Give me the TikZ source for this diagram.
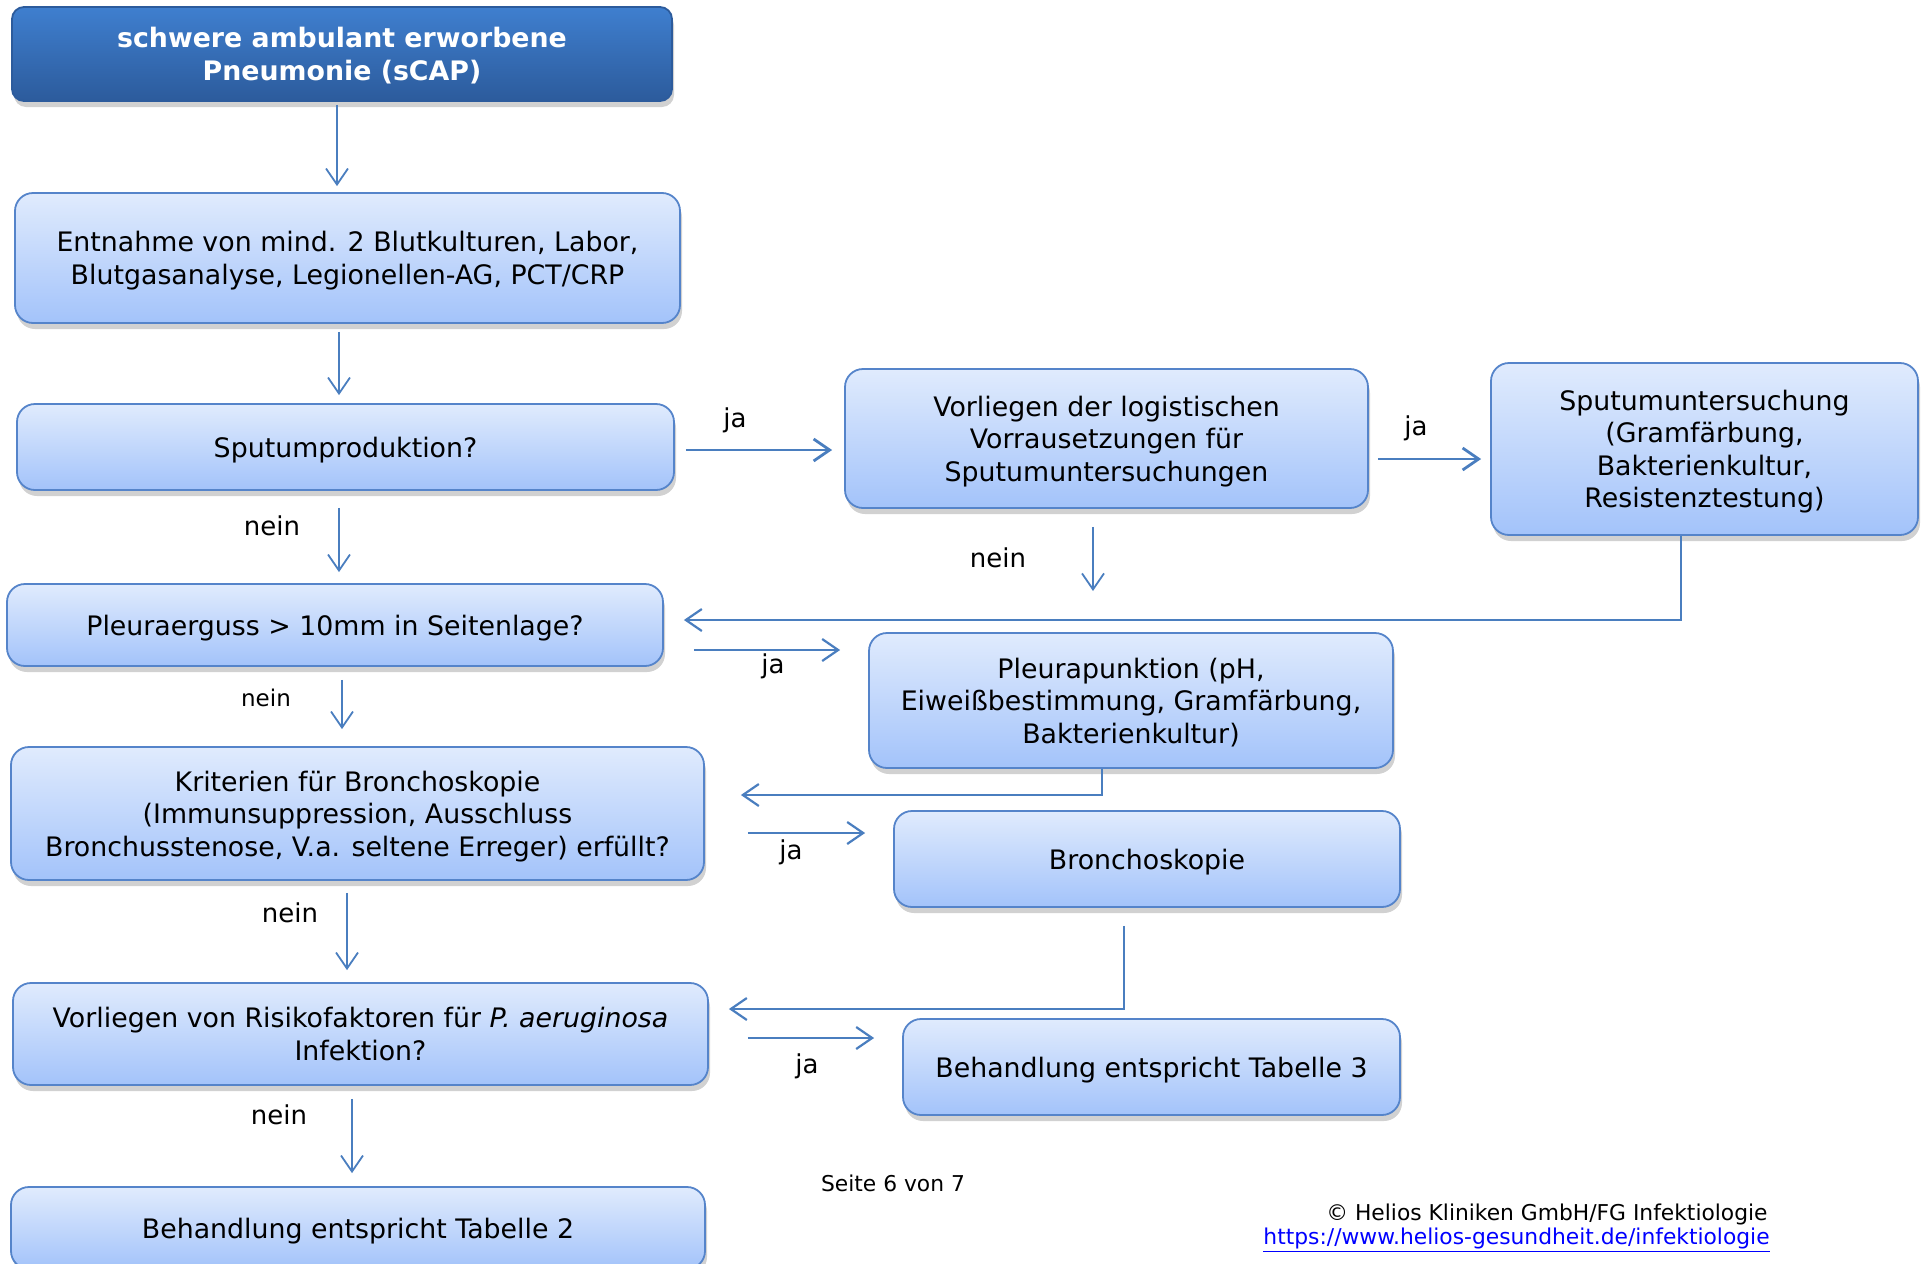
\documentclass[tikz,border=0pt]{standalone}
\usepackage{fontspec}
\setmainfont{DejaVu Sans}
\usetikzlibrary{arrows.meta,shadows,calc}
\definecolor{bord}{HTML}{5584CA}
\definecolor{ftop}{HTML}{E0EBFD}
\definecolor{fbot}{HTML}{A3C3FA}
\definecolor{dtop}{HTML}{3F7FCF}
\definecolor{dbot}{HTML}{2C5B9C}
\definecolor{arr}{HTML}{4A7EBF}
\newcommand\boxfont{\fontsize{13.4pt}{16.2pt}\selectfont}
\newcommand\labfont{\fontsize{13pt}{16pt}\selectfont}
\newcommand\footfont{\fontsize{10.9pt}{13pt}\selectfont}
\tikzset{
  box/.style={rectangle, rounded corners=9pt, draw=bord, line width=0.9pt,
    top color=ftop, bottom color=fbot, align=center, font=\boxfont, inner sep=0pt,
    text depth=0pt,
    drop shadow={shadow xshift=1pt, shadow yshift=-3pt, opacity=0.3, fill=black!60}},
  darkbox/.style={box, rounded corners=6pt, draw=dbot, top color=dtop, bottom color=dbot,
    text=white, font=\boxfont\bfseries, text depth=-2.5pt},
  lab/.style={font=\labfont, inner sep=0pt},
  down/.style={draw=arr, line width=0.9pt, -{Straight Barb[length=8pt,width=11pt]}},
  jarrow/.style={draw=arr, line width=1.4pt, -{Straight Barb[length=8pt,width=11pt]}},
  back/.style={draw=arr, line width=1.1pt, -{Straight Barb[length=8pt,width=11pt]}},
  foot/.style={font=\footfont, inner sep=0pt},
}
\begin{document}
\begin{tikzpicture}[x=0.5pt, y={(0pt,-0.5pt)}]
\useasboundingbox (0,0) rectangle (1924,1264);

% boxes
\node[darkbox, minimum width=330pt, minimum height=47pt] (top) at (342,54)
  {schwere ambulant erworbene\\Pneumonie (sCAP)};
\node[box, minimum width=332.5pt, minimum height=65pt] (entn) at (347.5,258)
  {Entnahme von mind. 2 Blutkulturen, Labor,\\Blutgasanalyse, Legionellen-AG, PCT/CRP};
\node[box, minimum width=328.5pt, minimum height=43pt] (sput) at (345.5,447)
  {Sputumproduktion?};
\node[box, minimum width=328pt, minimum height=41pt] (pleura) at (335,625)
  {Pleuraerguss > 10mm in Seitenlage?};
\node[box, minimum width=346.5pt, minimum height=66.5pt] (krit) at (357.5,813.5)
  {Kriterien für Bronchoskopie\\(Immunsuppression, Ausschluss\\Bronchusstenose, V.a. seltene Erreger) erfüllt?};
\node[box, minimum width=347.5pt, minimum height=51pt] (risiko) at (360.5,1034)
  {Vorliegen von Risikofaktoren für \textit{P. aeruginosa}\\Infektion?};
\node[box, minimum width=347pt, minimum height=41pt] (tab2) at (358,1228)
  {Behandlung entspricht Tabelle 2};
\node[box, minimum width=261.5pt, minimum height=69.5pt] (logist) at (1106.5,438.5)
  {Vorliegen der logistischen\\Vorrausetzungen für\\Sputumuntersuchungen};
\node[box, minimum width=213.5pt, minimum height=86pt] (sputU) at (1704.5,449)
  {Sputumuntersuchung\\(Gramfärbung,\\Bakterienkultur,\\Resistenztestung)};
\node[box, minimum width=262pt, minimum height=67.5pt] (punkt) at (1131,700.5)
  {Pleurapunktion (pH,\\Eiweißbestimmung, Gramfärbung,\\Bakterienkultur)};
\node[box, minimum width=253pt, minimum height=48pt] (bronch) at (1147,859)
  {Bronchoskopie};
\node[box, minimum width=248.5pt, minimum height=48pt] (tab3) at (1151.5,1067)
  {Behandlung entspricht Tabelle 3};

% vertical arrows
\draw[down, shorten <=1.5pt, shorten >=3pt] (337,0 |- top.south) -- (337,0 |- entn.north);
\draw[down, shorten <=4pt, shorten >=4pt] (339,0 |- entn.south) -- (339,0 |- sput.north);
\draw[down, shorten <=8.5pt, shorten >=5.5pt] (339,0 |- sput.south) -- (339,0 |- pleura.north);
\draw[down, shorten <=6.5pt, shorten >=8.5pt] (342,0 |- pleura.south) -- (342,0 |- krit.north);
\draw[down, shorten <=6pt, shorten >=6pt] (347,0 |- krit.south) -- (347,0 |- risiko.north);
\draw[down, shorten <=6.5pt, shorten >=6.5pt] (352,0 |- risiko.south) -- (352,0 |- tab2.north);
\coordinate (lend) at (1093,591);
\draw[down, shorten <=9pt] (logist.south -| lend) -- (lend);

% ja arrows
\draw[jarrow, shorten <=5.5pt, shorten >=6pt] (sput.east |- 0,450) -- (logist.west |- 0,450);
\draw[jarrow, shorten <=4.5pt, shorten >=4.5pt] (logist.east |- 0,459) -- (sputU.west |- 0,459);
\draw[back, shorten <=15pt, shorten >=14pt] (pleura.east |- 0,650) -- (punkt.west |- 0,650);
\draw[back, shorten <=21.5pt, shorten >=14pt] (krit.east |- 0,833) -- (bronch.west |- 0,833);
\draw[back, shorten <=19.5pt, shorten >=14pt] (risiko.east |- 0,1038) -- (tab3.west |- 0,1038);

% return lines
\coordinate (b1) at (1681,620);
\draw[back, shorten >=10pt] (sputU.south -| b1) -- (b1) -- (pleura.east |- b1);
\coordinate (b2) at (1102,795);
\draw[back, shorten >=18pt] (punkt.south -| b2) -- (b2) -- (krit.east |- b2);
\coordinate (b3) at (1124,1009);
\draw[back, shorten >=10pt] ($(bronch.south -| b3)+(0,18)$) -- (b3) -- (risiko.east |- b3);

% labels
\node[lab] (n1) at (272,526) {nein};
\node[lab, font=\fontsize{11.5pt}{14pt}\selectfont] (n2) at (266,698) {nein};
\node[lab] (n3) at (290,913) {nein};
\node[lab] (n4) at (279,1115) {nein};
\node[lab] (n5) at (998,558) {nein};
\node[lab] (j1) at (735,420) {ja};
\node[lab] (j2) at (1416,428) {ja};
\node[lab] (j3) at (773,666) {ja};
\node[lab] (j4) at (791,852) {ja};
\node[lab] (j5) at (807,1066) {ja};

% footer
\node[foot] (seite) at (893,1183) {Seite 6 von 7};
\node[foot, anchor=east] (copy) at (1768,1214)
  {© Helios Kliniken GmbH/FG Infektiologie};
\node[foot, anchor=east, text=blue] (url) at (1770,1240)
  {\underline{https://www.helios-gesundheit.de/infektiologie}};
\end{tikzpicture}
\end{document}
